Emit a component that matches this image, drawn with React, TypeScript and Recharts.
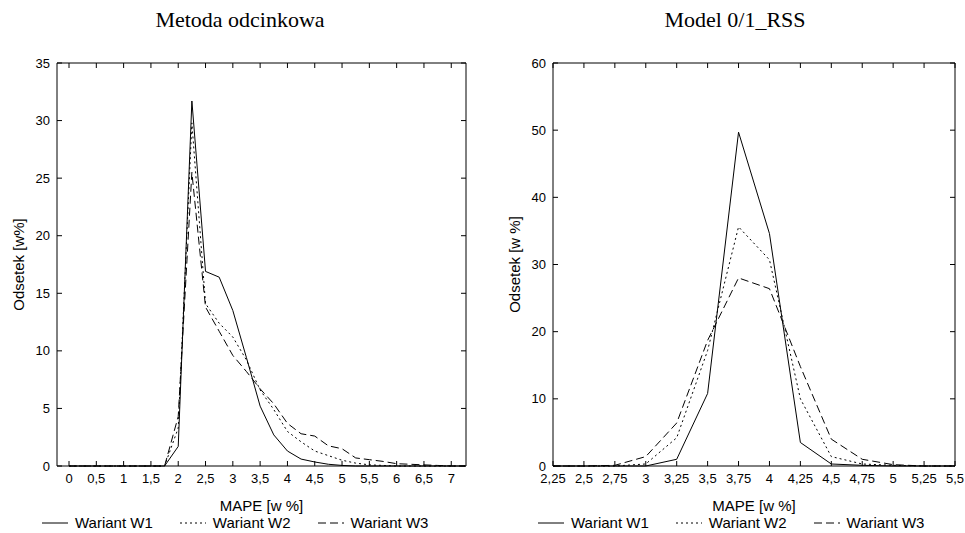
import { Legend, Line, LineChart, XAxis, YAxis } from "recharts";

// MAPE classes (x) and shares of cases in % (y)
const mapeLeft = [
  0, 0.25, 0.5, 0.75, 1, 1.25, 1.5, 1.75, 2, 2.25, 2.5, 2.75, 3, 3.25, 3.5,
  3.75, 4, 4.25, 4.5, 4.75, 5, 5.25, 5.5, 5.75, 6, 6.25, 6.5, 6.75, 7, 7.25,
];
const leftW1 = [
  0, 0, 0, 0, 0, 0, 0, 0, 1.7, 31.7, 16.9, 16.4, 13.5, 9.4, 5.2, 2.7, 1.3, 0.6,
  0.35, 0.15, 0.05, 0, 0, 0, 0, 0, 0, 0, 0, 0,
];
const leftW2 = [
  0, 0, 0, 0, 0, 0, 0, 0, 3.3, 29.8, 14.1, 12.4, 11.2, 9.2, 6.6, 4.9, 3.0, 2.1,
  1.3, 0.9, 0.5, 0.25, 0.1, 0.05, 0, 0, 0, 0, 0, 0,
];
const leftW3 = [
  0, 0, 0, 0, 0, 0, 0, 0, 4.3, 25.5, 13.8, 11.7, 9.6, 8.2, 6.7, 5.4, 3.7, 2.8,
  2.6, 1.75, 1.5, 0.7, 0.55, 0.4, 0.2, 0.15, 0.1, 0.05, 0, 0,
];

const mapeRight = [2.25, 2.5, 2.75, 3, 3.25, 3.5, 3.75, 4, 4.25, 4.5, 4.75, 5, 5.25, 5.5];
const rightW1 = [0, 0, 0, 0, 1, 10.8, 49.7, 34.6, 3.5, 0.3, 0.1, 0, 0, 0];
const rightW2 = [0, 0, 0, 0.3, 4.2, 17.2, 35.6, 30.7, 10, 1.4, 0.3, 0.1, 0, 0];
const rightW3 = [0, 0, 0.1, 1.4, 6.4, 18.7, 28, 26.4, 14.8, 4, 1, 0.2, 0, 0];

const leftTicksX = [0, 0.5, 1, 1.5, 2, 2.5, 3, 3.5, 4, 4.5, 5, 5.5, 6, 6.5, 7];
const leftTicksY = [0, 5, 10, 15, 20, 25, 30, 35];
const rightTicksY = [0, 10, 20, 30, 40, 50, 60];

const series = [
  { key: "w1", name: "Wariant W1", dash: undefined as string | undefined },
  { key: "w2", name: "Wariant W2", dash: "2 3" },
  { key: "w3", name: "Wariant W3", dash: "8 4" },
];

const sans = "'Liberation Sans', Arial, sans-serif";
const serif = "'Liberation Serif', 'Times New Roman', serif";
const tickStyle = { fill: "#000", fontSize: 13, fontFamily: sans };

const toRows = (xs: number[], a: number[], b: number[], c: number[]) =>
  xs.map((x, i) => ({ mape: x, w1: a[i], w2: b[i], w3: c[i] }));

const comma = (v: number) => String(v).replace(".", ",");
const noTick = () => <g />;

function LegendRow() {
  return (
    <div style={{ display: "flex", fontFamily: sans, fontSize: 15, color: "#000", whiteSpace: "nowrap" }}>
      {series.map((s) => (
        <div key={s.key} style={{ display: "flex", alignItems: "center", marginRight: 27 }}>
          <svg width={26} height={4}>
            <line x1={0} y1={2} x2={26} y2={2} stroke="#000" strokeWidth={1} strokeDasharray={s.dash} />
          </svg>
          <span style={{ marginLeft: 7 }}>{s.name}</span>
        </div>
      ))}
    </div>
  );
}

type PanelProps = {
  left: number;
  width: number;
  title: string;
  titleCenter: number;
  yLabel: string;
  rows: { mape: number; w1: number; w2: number; w3: number }[];
  xDomain: [number, number];
  xTicks: number[];
  yMax: number;
  yTicks: number[];
  marginLeft: number;
  marginRight: number;
  legendLeft: number;
};

function Panel(p: PanelProps) {
  return (
    <div style={{ position: "absolute", left: p.left, top: 0, width: p.width, height: 533 }}>
      <div
        style={{
          position: "absolute",
          left: p.titleCenter - 150,
          width: 300,
          top: 7,
          textAlign: "center",
          fontFamily: serif,
          fontSize: 22,
          color: "#000",
        }}
      >
        {p.title}
      </div>
      <LineChart
        width={p.width}
        height={533}
        data={p.rows}
        margin={{ top: 62, right: p.marginRight, bottom: 37, left: p.marginLeft }}
      >
        <XAxis
          dataKey="mape"
          type="number"
          domain={p.xDomain}
          ticks={p.xTicks}
          tickFormatter={comma}
          interval={0}
          height={30}
          stroke="#000"
          tickSize={-5}
          tickMargin={13}
          tick={tickStyle}
          label={({ viewBox }: any) => (
            <text
              x={viewBox.x + viewBox.width / 2}
              y={viewBox.y + 39}
              textAnchor="middle"
              dominantBaseline="central"
              fontFamily={sans}
              fontSize={15}
              fill="#000"
            >
              MAPE [w %]
            </text>
          )}
        />
        <XAxis
          xAxisId="top"
          dataKey="mape"
          orientation="top"
          type="number"
          domain={p.xDomain}
          ticks={p.xTicks}
          interval={0}
          height={1}
          stroke="#000"
          tickSize={-5}
          tick={noTick}
        />
        <YAxis
          type="number"
          domain={[0, p.yMax]}
          ticks={p.yTicks}
          interval={0}
          width={40}
          stroke="#000"
          tickSize={-5}
          tickMargin={12}
          tick={tickStyle}
          label={({ viewBox }: any) => {
            const cx = viewBox.x + viewBox.width - 39;
            const cy = viewBox.y + viewBox.height / 2;
            return (
              <text
                x={cx}
                y={cy}
                transform={`rotate(-90, ${cx}, ${cy})`}
                textAnchor="middle"
                dominantBaseline="central"
                fontFamily={sans}
                fontSize={15}
                fill="#000"
              >
                {p.yLabel}
              </text>
            );
          }}
        />
        <YAxis
          yAxisId="right"
          orientation="right"
          type="number"
          domain={[0, p.yMax]}
          ticks={p.yTicks}
          interval={0}
          width={1}
          stroke="#000"
          tickSize={-5}
          tick={noTick}
        />
        <Legend
          layout="horizontal"
          verticalAlign="middle"
          align="center"
          content={() => <LegendRow />}
          wrapperStyle={{ left: p.legendLeft, top: 514, width: "auto", height: 20 }}
        />
        {series.map((s) => (
          <Line
            key={s.key}
            type="linear"
            dataKey={s.key}
            name={s.name}
            stroke="#000"
            strokeWidth={1}
            strokeDasharray={s.dash}
            dot={false}
            activeDot={false}
            isAnimationActive={false}
          />
        ))}
        {/* invisible copy bound to the frame axes (top / right) so they get scaled */}
        <Line
          xAxisId="top"
          yAxisId="right"
          type="linear"
          dataKey="w1"
          stroke="none"
          dot={false}
          activeDot={false}
          legendType="none"
          isAnimationActive={false}
        />
      </LineChart>
    </div>
  );
}

export default function App() {
  return (
    <div style={{ position: "absolute", left: 0, top: 0, width: 965, height: 533, background: "#fff" }}>
      <Panel
        left={0}
        width={480}
        title="Metoda odcinkowa"
        titleCenter={240}
        yLabel="Odsetek [w%]"
        rows={toRows(mapeLeft, leftW1, leftW2, leftW3)}
        xDomain={[-0.22, 7.27]}
        xTicks={leftTicksX}
        yMax={35}
        yTicks={leftTicksY}
        marginLeft={17}
        marginRight={13}
        legendLeft={42}
      />
      <Panel
        left={480}
        width={485}
        title="Model 0/1_RSS"
        titleCenter={255}
        yLabel="Odsetek [w %]"
        rows={toRows(mapeRight, rightW1, rightW2, rightW3)}
        xDomain={[2.25, 5.5]}
        xTicks={mapeRight}
        yMax={60}
        yTicks={rightTicksY}
        marginLeft={33}
        marginRight={9}
        legendLeft={58}
      />
    </div>
  );
}
